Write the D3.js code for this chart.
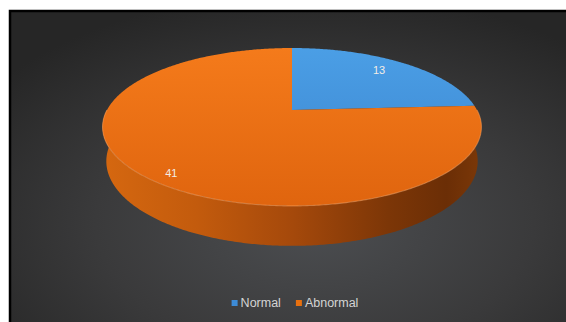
<!DOCTYPE html>
<html>
<head>
<meta charset="utf-8">
<script src="https://cdn.jsdelivr.net/npm/d3@7/dist/d3.min.js"></script>
<style>
  html, body { margin: 0; padding: 0; background: #ffffff; }
  svg { display: block; }
</style>
</head>
<body>
<svg id="chart" width="566" height="322"></svg>
<script>
// Data
const categories = ["Normal", "Abnormal"];
const values = [13, 41];
const palette = ["#3d8bd6", "#e8700f"];

const W = 566, H = 322;
const svg = d3.select("#chart");
const defs = svg.append("defs");

// Chart-area background: dark radial gradient inside a black frame
const bg = defs.append("radialGradient").attr("id", "bg")
  .attr("cx", "52%").attr("cy", "62%").attr("r", "68%");
bg.append("stop").attr("offset", "0%").attr("stop-color", "#4c4e51");
bg.append("stop").attr("offset", "55%").attr("stop-color", "#3a3a3b");
bg.append("stop").attr("offset", "100%").attr("stop-color", "#262626");

svg.append("rect").attr("x", 10).attr("y", 11)
  .attr("width", W + 20).attr("height", H + 20)
  .attr("fill", "url(#bg)").attr("stroke", "#000").attr("stroke-width", 2.5);

// 3D perspective projection of the pie disc
const cx = 292, cy = 110;           // projected centre of the disc
const k = 185;                      // scale of the unit radius
const sinA = 0.407, cosA = Math.sqrt(1 - sinA * sinA); // elevation
const D = 4.25;                     // viewing distance (in radii)
const thick = 0.201;                // disc thickness (in radii)

function project(theta, r, h) {
  const x = r * Math.sin(theta), z = r * Math.cos(theta);
  const u = z * sinA + h * cosA;
  const w = z * cosA - h * sinA;
  const s = D / (D + w);
  return [cx + k * x * s, cy - k * u * s];
}

function arcPoints(a0, a1, r, h) {
  const n = Math.max(2, Math.ceil(Math.abs(a1 - a0) / 0.01));
  return d3.range(n + 1).map(i => project(a0 + (a1 - a0) * i / n, r, h));
}

const color = d3.scaleOrdinal().domain(categories).range(palette);
const pie = d3.pie().sort(null).value(d => d.value);
const slices = pie(categories.map((c, i) => ({ name: c, value: values[i] })));
const line = d3.line();

// Gradients
const sideGrad = defs.append("linearGradient").attr("id", "side-Abnormal")
  .attr("gradientUnits", "userSpaceOnUse")
  .attr("x1", 100).attr("x2", 485).attr("y1", 0).attr("y2", 0);
[[0, "#d66810"], [0.25, "#c35b0d"], [0.5, "#a5490b"], [0.75, "#7c3607"],
 [0.9, "#6b2e06"], [1, "#7d3908"]]
  .forEach(([o, c]) => sideGrad.append("stop").attr("offset", o).attr("stop-color", c));

const sideGradB = defs.append("linearGradient").attr("id", "side-Normal")
  .attr("gradientUnits", "userSpaceOnUse")
  .attr("x1", 100).attr("x2", 485).attr("y1", 0).attr("y2", 0);
sideGradB.append("stop").attr("offset", 0).attr("stop-color", "#2f6fae");
sideGradB.append("stop").attr("offset", 1).attr("stop-color", "#1d4670");

const topStops = {
  Normal: ["#4b9fe6", "#3a82cc"],
  Abnormal: ["#f57b1b", "#df640e"]
};
categories.forEach(c => {
  const g = defs.append("linearGradient").attr("id", "top-" + c)
    .attr("gradientUnits", "userSpaceOnUse")
    .attr("x1", 0).attr("x2", 0).attr("y1", 45).attr("y2", 210);
  g.append("stop").attr("offset", 0).attr("stop-color", topStops[c][0]);
  g.append("stop").attr("offset", 1).attr("stop-color", topStops[c][1]);
});

const pieG = svg.append("g");

// Visible side walls (front half of the disc)
slices.forEach(s => {
  const a0 = Math.max(s.startAngle, Math.PI / 2);
  const a1 = Math.min(s.endAngle, 3 * Math.PI / 2);
  if (a1 <= a0) return;
  const pts = arcPoints(a0, a1, 1, 0).concat(arcPoints(a1, a0, 1, -thick));
  pieG.append("path")
    .attr("d", line(pts) + "Z")
    .attr("fill", `url(#side-${s.data.name})`);
});

// Top faces
slices.forEach(s => {
  const pts = [project(0, 0, 0)].concat(arcPoints(s.startAngle, s.endAngle, 1, 0));
  pieG.append("path")
    .attr("d", line(pts) + "Z")
    .attr("fill", `url(#top-${s.data.name})`);
});

// Light rim where the top face meets the side wall
pieG.append("path")
  .attr("d", line(arcPoints(Math.PI / 2, 3 * Math.PI / 2, 1, 0)))
  .attr("fill", "none").attr("stroke", "#f8a262")
  .attr("stroke-opacity", 0.5).attr("stroke-width", 1.1);

// Data labels, placed just before each slice's mid-angle
const labelRadius = [0.8, 0.9];
const labelAngleFraction = 0.48;
slices.forEach((s, i) => {
  const a = s.startAngle + (s.endAngle - s.startAngle) * labelAngleFraction;
  const [x, y] = project(a, labelRadius[i], 0);
  svg.append("text")
    .attr("x", x).attr("y", y)
    .attr("text-anchor", "middle").attr("dominant-baseline", "central")
    .attr("font-family", "Liberation Sans, Arial, sans-serif")
    .attr("font-size", 11)
    .attr("fill", "#f2ece6")
    .text(s.data.value);
});

// Legend
const legend = svg.append("g");
let lx = 0;
categories.forEach((c, i) => {
  const item = legend.append("g").attr("transform", `translate(${lx},0)`);
  item.append("rect").attr("x", 0).attr("y", -3).attr("width", 6).attr("height", 6)
    .attr("fill", color(c));
  const t = item.append("text").attr("x", 9).attr("y", 0)
    .attr("dominant-baseline", "central")
    .attr("font-family", "Liberation Sans, Arial, sans-serif")
    .attr("font-size", 12.5).attr("fill", "#d4d4d4")
    .text(c);
  lx += 9 + t.node().getComputedTextLength() + 15;
});
const legendW = lx - 15;
legend.attr("transform", `translate(${295 - legendW / 2},303)`);
</script>
</body>
</html>
